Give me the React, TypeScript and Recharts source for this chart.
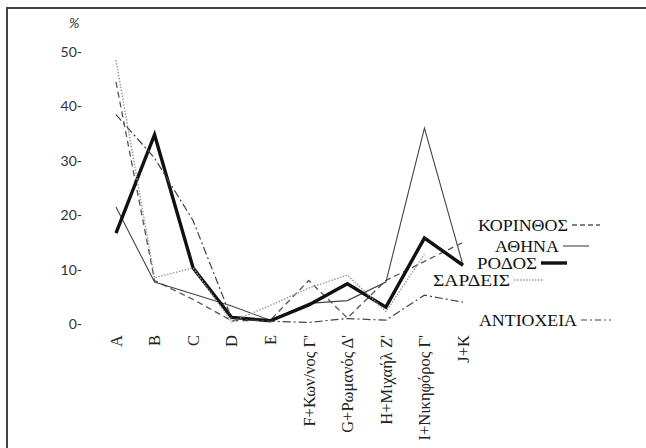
import { CartesianGrid, Line, LineChart, XAxis, YAxis } from "recharts";

const categories = [
  "A",
  "B",
  "C",
  "D",
  "E",
  "F+Κων/νος Γ'",
  "G+Ρωμανός Δ'",
  "H+Μιχαήλ Ζ'",
  "I+Νικηφόρος Γ'",
  "J+K"
];

const korinthos = [44.5, 8, 4.5, 0.6, 0.7, 8, 1.1, 8, 11.5, 15];
const athina = [21.5, 7.7, 5.5, 3.3, 0.7, 3.8, 4.3, 7.7, 36, 10.8];
const rodos = [16.7, 34.8, 10.3, 1.2, 0.6, 3.5, 7.4, 3.1, 15.8, 10.8];
const sardeis = [48.5, 8.5, 10.3, 0.4, 3.4, 6.6, 9, 2.3, 12.8, null];
const antiocheia = [38.5, 30.5, 19, 1, 0.5, 0.3, 1, 0.7, 5.3, 4];

const yTicks = [0, 10, 20, 30, 40, 50];

const data = categories.map((cat, i) => ({
  cat,
  korinthos: korinthos[i],
  athina: athina[i],
  rodos: rodos[i],
  sardeis: sardeis[i],
  antiocheia: antiocheia[i]
}));

const series = [
  { key: "korinthos", stroke: "#555", width: 1.3, dash: "6 4" },
  { key: "athina", stroke: "#444", width: 1.1, dash: undefined },
  { key: "rodos", stroke: "#111", width: 3.4, dash: undefined },
  { key: "sardeis", stroke: "#999", width: 1.4, dash: "1.5 1.5" },
  { key: "antiocheia", stroke: "#444", width: 1.2, dash: "8 3 2 3" }
];

// legend entries (name, where the text sits, sample style)
const legend = [
  { name: "ΚΟΡΙΝΘΟΣ", x: 478, y: 225, w: 90, len: 28, stroke: "#555", width: 1.3, dash: "5 3" },
  { name: "ΑΘΗΝΑ", x: 495, y: 246, w: 64, len: 26, stroke: "#444", width: 1.1, dash: undefined },
  { name: "ΡΟΔΟΣ", x: 477, y: 263, w: 60, len: 26, stroke: "#111", width: 3.4, dash: undefined },
  { name: "ΣΑΡΔΕΙΣ", x: 433, y: 280, w: 77, len: 30, stroke: "#999", width: 1.4, dash: "1.5 1.5" },
  { name: "ΑΝΤΙΟΧΕΙΑ", x: 479, y: 320, w: 98, len: 30, stroke: "#444", width: 1.2, dash: "6 3 2 3" }
];

const serif = "'Liberation Serif', 'DejaVu Serif', serif";
const sans = "Lato, 'Open Sans', sans-serif";

const YTick = (props: any) => {
  const { x, y, payload } = props;
  return (
    <text x={x} y={y} dy="0.35em" textAnchor="end" fontFamily={sans} fontSize={14} fill="#333">
      {payload.value}-
    </text>
  );
};

const XTick = (props: any) => {
  const { x, y, payload } = props;
  return (
    <text
      x={x}
      y={y}
      dy="0.35em"
      textAnchor="end"
      transform={`rotate(-90, ${x}, ${y})`}
      fontFamily={serif}
      fontSize={16.5}
      fill="#222"
    >
      {payload.value}
    </text>
  );
};

export default function App() {
  return (
    <div
      style={{
        position: "fixed",
        left: 0,
        top: 0,
        width: 646,
        height: 448,
        background: "#fff",
        overflow: "hidden"
      }}
    >
      <svg width={646} height={448} style={{ position: "absolute", left: 0, top: 0 }}>
        <line x1={6} x2={646} y1={8} y2={8} stroke="#444" strokeWidth={2} />
        <line x1={7} x2={7} y1={7} y2={448} stroke="#444" strokeWidth={2} />
      </svg>
      <div
        style={{
          position: "absolute",
          left: 69,
          top: 14,
          fontFamily: sans,
          fontStyle: "italic",
          fontSize: 14,
          color: "#333"
        }}
      >
        %
      </div>
      <div style={{ position: "absolute", left: 0, top: 0 }}>
        <LineChart width={646} height={448} data={data} margin={{ top: 52, right: 183, bottom: 0, left: 56 }}>
          <CartesianGrid stroke="none" />
          <XAxis
            dataKey="cat"
            height={124}
            axisLine={false}
            tickLine={false}
            tickSize={0}
            tickMargin={11}
            interval={0}
            tick={<XTick />}
            padding={{ left: 0, right: 0 }}
          />
          <YAxis
            width={60}
            domain={[0, 50]}
            ticks={yTicks}
            axisLine={false}
            tickLine={false}
            tickSize={0}
            tickMargin={34}
            tick={<YTick />}
          />
          {series.map((s) => (
            <Line
              key={s.key}
              dataKey={s.key}
              type="linear"
              stroke={s.stroke}
              strokeWidth={s.width}
              strokeDasharray={s.dash}
              dot={false}
              activeDot={false}
              isAnimationActive={false}
            />
          ))}
        </LineChart>
      </div>
      <svg width={646} height={448} style={{ position: "absolute", left: 0, top: 0 }}>
        {legend.map((l) => (
          <g key={l.name}>
            <text
              x={l.x}
              y={l.y}
              dy="0.35em"
              fontFamily={serif}
              fontSize={16}
              fill="#111"
              stroke="#fff"
              strokeWidth={3}
              paintOrder="stroke"
              textLength={l.w}
              lengthAdjust="spacingAndGlyphs"
            >
              {l.name}
            </text>
            <line
              x1={l.x + l.w + 4}
              x2={l.x + l.w + 4 + l.len}
              y1={l.y}
              y2={l.y}
              stroke={l.stroke}
              strokeWidth={l.width}
              strokeDasharray={l.dash}
            />
          </g>
        ))}
      </svg>
    </div>
  );
}
